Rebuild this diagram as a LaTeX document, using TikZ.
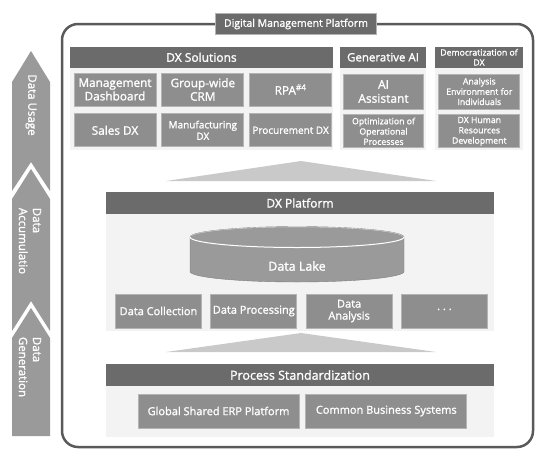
\documentclass[tikz,border=0pt]{standalone}
\usepackage{fontspec}
\setmainfont{Open Sans}[FakeBold=1.4]
\usepackage{tikz}
\usetikzlibrary{positioning}
\definecolor{headgray}{HTML}{6B6B6B}
\definecolor{boxgray}{HTML}{8E8E8E}
\definecolor{boxedge}{HTML}{B4B4B4}
\definecolor{panelgray}{HTML}{F3F3F3}
\definecolor{trigray}{HTML}{C9C9C9}
\definecolor{framegray}{HTML}{5A5A5A}
\definecolor{stepgray}{HTML}{9A9A9A}
\newcommand{\fsz}[2]{\fontsize{#1}{#2}\selectfont}

\begin{document}
\begin{tikzpicture}[
  x=1pt, y=-1pt,
  box/.style={draw=boxedge, fill=boxgray, text=white, align=center,
    inner sep=1pt, line width=0.8pt, minimum width=82pt,
    minimum height=33pt, font=\fsz{11.8}{13.5}},
  head/.style={fill=headgray, text=white, inner sep=0pt,
    minimum height=21.5pt, font=\fsz{12}{14}},
  panel/.style={fill=panelgray},
  stepbox/.style={fill=stepgray},
  steptext/.style={rotate=-90, text=white, align=left, font=\fsz{11.5}{14}}
]
  \useasboundingbox (0,0) rectangle (545,461);

  % Frame
  \draw[framegray, line width=2.5pt, rounded corners=16pt] (62,24) rectangle (533,447);
  \node[fill=headgray, draw=boxedge, text=white, minimum width=161pt,
    minimum height=21pt, inner sep=0pt, font=\fsz{10.5}{12}] (dmp) at (296,24) {Digital Management Platform};

  % Left steps
  \fill[stepbox] (12,82) -- (31,51) -- (50,82) -- (50,191) -- (31,162) -- (12,191) -- cycle;
  \fill[stepbox] (12,199) -- (31,169) -- (50,199) -- (50,331) -- (31,301) -- (12,331) -- cycle;
  \fill[stepbox] (12,338) -- (31,308) -- (50,338) -- (50,436) -- (12,436) -- cycle;
  \node[steptext] (usage) at (31,105) {Data Usage};
  \node[steptext] (accum) at (30,241) {Data\\Accumulatio};
  \node[steptext] (gener) at (30,367) {Data\\Generation};

  % DX Solutions
  \fill[panel] (70,68) rectangle (333,150);
  \node[head, minimum width=263pt] (dxsol) at (201.5,57.25) {DX Solutions};
  \node[box] (mgmt) at (115,89.5) {Management\\Dashboard};
  \node[box, right=5pt of mgmt] (crm) {Group-wide\\CRM};
  \node[box, right=5pt of crm] (rpa) {RPA\textsuperscript{\#4}};
  \node[box, below=7pt of mgmt] (sales) {Sales DX};
  \node[box, below=7pt of crm, font=\fsz{10}{11.5}] (manu) {Manufacturing\\DX};
  \node[box, below=7pt of rpa, font=\fsz{10}{11.5}] (proc) {Procurement DX};

  % Generative AI
  \fill[panel] (340,68) rectangle (426,150);
  \node[head, minimum width=86pt, font=\fsz{11.5}{13}] (genai) at (383,57.25) {Generative AI};
  \node[box, minimum width=80pt, minimum height=35pt, font=\fsz{12}{14}] (asst) at (383.5,91.5) {AI\\Assistant};
  \node[box, minimum width=80pt, below=5pt of asst, font=\fsz{8.7}{10.3}] (optim) {Optimization of\\Operational\\Processes};

  % Democratization of DX
  \fill[panel] (435,68) rectangle (523,150);
  \node[head, minimum width=88pt, font=\fsz{8.7}{10}, align=center] (demo) at (479,57.25) {Democratization of\\DX};
  \node[box, minimum width=81pt, minimum height=35pt, font=\fsz{8.7}{10.3}] (anly) at (479.3,91.5) {Analysis\\Environment for\\Individuals};
  \node[box, minimum width=81pt, below=5pt of anly, font=\fsz{8.7}{10.3}] (hrd) {DX Human\\Resources\\Development};

  \fill[trigray] (166,181) -- (301,161) -- (436,181) -- cycle;

  % DX Platform
  \fill[panel] (106,214) rectangle (494,331);
  \node[head, minimum width=388pt] (dxplat) at (300,203) {DX Platform};
  \fill[stepgray, draw=gray] (190,237) -- (190,271.5)
    arc[start angle=180, end angle=360, x radius=107pt, y radius=10.5pt] -- (404,237) -- cycle;
  \draw[fill=stepgray, draw=white, line width=1pt] (297,237) ellipse[x radius=107pt, y radius=10.5pt];
  \draw[gray] (190,237) arc[start angle=180, end angle=0, x radius=107pt, y radius=10.5pt];
  \node[text=white, font=\fsz{12.5}{14}] (lake) at (297,266) {Data Lake};
  \node[box, minimum width=86pt, minimum height=34pt, font=\fsz{11}{12}] (coll) at (158.5,311) {Data Collection};
  \node[box, minimum width=86pt, minimum height=34pt, font=\fsz{11}{12}, right=8.5pt of coll] (procs) {Data Processing};
  \node[box, minimum width=86pt, minimum height=34pt, font=\fsz{11}{12}, right=8.5pt of procs] (anal) {Data\\Analysis};
  \node[box, minimum width=86pt, minimum height=34pt, font=\fsz{11}{12}, right=8.5pt of anal] (more) {· · ·};

  \fill[trigray] (166,352) -- (301,333) -- (436,352) -- cycle;

  % Process Standardization
  \fill[panel] (106,386) rectangle (494,437);
  \node[head, minimum width=388pt, minimum height=22pt, font=\fsz{12.5}{14}] (pstd) at (300,375) {Process Standardization};
  \node[box, minimum width=161pt, minimum height=34pt, font=\fsz{11}{13}] (erp) at (218.5,411) {Global Shared ERP Platform};
  \node[box, minimum width=161pt, minimum height=34pt, font=\fsz{11}{13}, right=6pt of erp] (cbs) {Common Business Systems};
\end{tikzpicture}
\end{document}
